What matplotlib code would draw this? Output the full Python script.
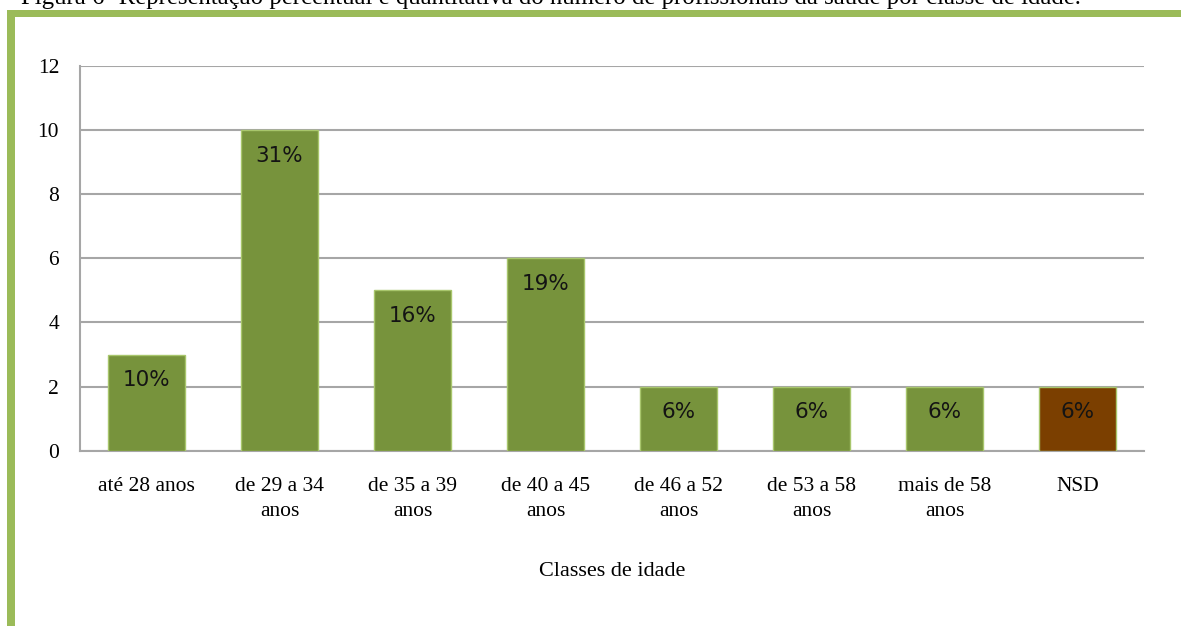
import matplotlib
matplotlib.use("Agg")
import matplotlib.pyplot as plt
from matplotlib.patches import Rectangle

categories = ["até 28 anos", "de 29 a 34\nanos", "de 35 a 39\nanos", "de 40 a 45\nanos",
              "de 46 a 52\nanos", "de 53 a 58\nanos", "mais de 58\nanos", "NSD"]
values = [3, 10, 5, 6, 2, 2, 2, 2]
pct_labels = ["10%", "31%", "16%", "19%", "6%", "6%", "6%", "6%"]
yticks = [0, 2, 4, 6, 8, 10, 12]
caption = "Figura 6- Representação percentual e quantitativa do número de profissionais da saúde por classe de idade."
xlabel = "Classes de idade"

W, H = 1181, 626
fig = plt.figure(figsize=(W / 100, H / 100), dpi=100)
fig.patch.set_facecolor("white")

serif = ["Liberation Serif", "DejaVu Serif"]

# green frame (left and top)
border = "#9BBB59"
fig.patches.append(Rectangle((7 / W, 0), 8 / W, (H - 10) / H, transform=fig.transFigure,
                             facecolor=border, edgecolor="none", zorder=0))
fig.patches.append(Rectangle((7 / W, (H - 17) / H), (W - 7) / W, 7 / H, transform=fig.transFigure,
                             facecolor=border, edgecolor="none", zorder=0))

# cut-off caption at top (as in the reference)
fig.text(551 / W, 1 - 4 / H, caption, ha="center", va="baseline", fontsize=17.8,
         family=serif, color="black")

left, right, bottom, top = 80, 1144, 450.7, 66
ax = fig.add_axes([left / W, (H - bottom) / H, (right - left) / W, (bottom - top) / H])

colors = ["#77933C"] * 7 + ["#7B3F00"]
x = range(len(categories))
bars = ax.bar(x, values, width=0.575, color=colors, edgecolor="#A8C66C", linewidth=1.0, zorder=3)

ax.set_xlim(-0.5, len(categories) - 0.5)
ax.set_ylim(0, 12)
ax.set_yticks(yticks)
ax.set_yticklabels([str(t) for t in yticks], family=serif, fontsize=15.5)
ax.set_xticks(list(x))
ax.set_xticklabels(categories, family=serif, fontsize=15.5, linespacing=1.4)
ax.tick_params(axis="y", length=0, pad=15)
ax.tick_params(axis="x", length=0, pad=19)

ax.grid(axis="y", color="#A6A6A6", linewidth=1.5, zorder=0)
for s in ["top", "right"]:
    ax.spines[s].set_visible(False)
for s in ["left", "bottom"]:
    ax.spines[s].set_color("#A6A6A6")
    ax.spines[s].set_linewidth(1.5)

for b, lab in zip(bars, pct_labels):
    ax.annotate(lab, (b.get_x() + b.get_width() / 2, b.get_height()), xytext=(0, -18.5),
                textcoords="offset points", ha="center", va="center", fontsize=15.5,
                family=["DejaVu Sans"], color="#141414", zorder=4)

ax.set_xlabel(xlabel, family=serif, fontsize=16, labelpad=30)

fig.savefig("out.png", dpi=100)
